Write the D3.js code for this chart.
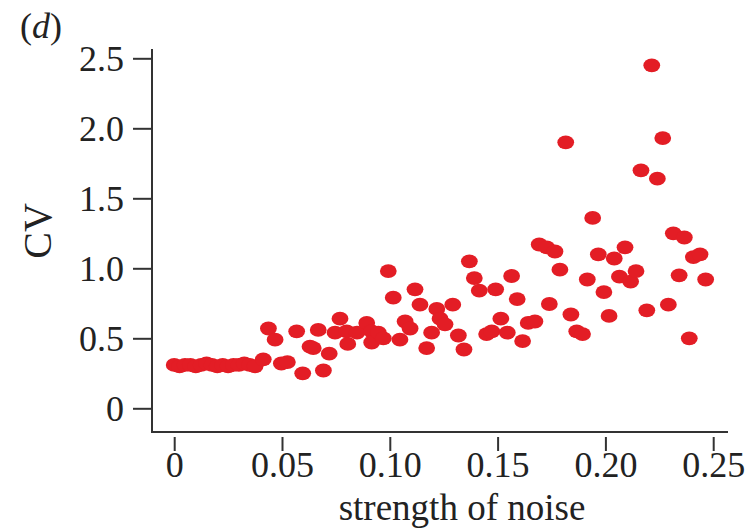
<!DOCTYPE html>
<html>
<head>
<meta charset="utf-8">
<script src="https://cdn.jsdelivr.net/npm/d3@7"></script>
<style>
  body { margin: 0; background: #fff; }
  svg { display: block; }
  text { font-family: "Liberation Serif", "Times New Roman", serif; fill: #222; }
</style>
</head>
<body>
<svg id="chart" width="745" height="529"></svg>
<script>
// ---- data ----
const noiseStrength = [
  0, 0.0025, 0.005, 0.0075, 0.01, 0.0125, 0.015, 0.0175, 0.02, 0.0225, 0.025, 0.0275, 0.03, 0.0325, 0.035, 0.0375,
  0.0413, 0.0437, 0.0468, 0.0497, 0.0525, 0.0568, 0.0596, 0.0630, 0.0645, 0.0668, 0.0692, 0.0719,
  0.0746, 0.0769, 0.0800, 0.0805, 0.0848, 0.0893, 0.0916, 0.0916, 0.0947, 0.0970, 0.0993,
  0.1016, 0.1047, 0.1071, 0.1094, 0.1117, 0.1140, 0.1171, 0.1194, 0.1218, 0.1233, 0.1256,
  0.1292, 0.1318, 0.1344, 0.1369, 0.1392, 0.1415, 0.1449, 0.1473, 0.1491, 0.1515, 0.1545,
  0.1565, 0.1591, 0.1616, 0.1642, 0.1673, 0.1693, 0.1728, 0.1740, 0.1766, 0.1789, 0.1816,
  0.1840, 0.1867, 0.1894, 0.1916, 0.1941, 0.1967, 0.1993, 0.2017, 0.2041, 0.2065, 0.2091,
  0.2117, 0.2142, 0.2165, 0.2192, 0.2215, 0.2241, 0.2266, 0.2292, 0.2315, 0.2342, 0.2366,
  0.2389, 0.2408, 0.2439, 0.2465
];
const cvValues = [
  0.31, 0.30, 0.31, 0.31, 0.30, 0.31, 0.32, 0.31, 0.30, 0.31, 0.30, 0.31, 0.31, 0.32, 0.31, 0.30,
  0.35, 0.57, 0.49, 0.32, 0.33, 0.55, 0.25, 0.44, 0.43, 0.56, 0.27, 0.39,
  0.54, 0.64, 0.55, 0.46, 0.54, 0.61, 0.55, 0.47, 0.54, 0.50, 0.98,
  0.79, 0.49, 0.62, 0.57, 0.85, 0.74, 0.43, 0.54, 0.71, 0.64, 0.60,
  0.74, 0.52, 0.42, 1.05, 0.93, 0.84, 0.53, 0.55, 0.85, 0.64, 0.54,
  0.945, 0.78, 0.48, 0.61, 0.62, 1.17, 1.15, 0.745, 1.12, 0.99, 1.90,
  0.67, 0.55, 0.53, 0.92, 1.36, 1.10, 0.83, 0.66, 1.07, 0.94, 1.15,
  0.905, 0.98, 1.70, 0.70, 2.45, 1.64, 1.93, 0.74, 1.25, 0.95, 1.22,
  0.50, 1.08, 1.10, 0.92
];
const xTicks = [0, 0.05, 0.10, 0.15, 0.20, 0.25];
const xTickLabels = ["0", "0.05", "0.10", "0.15", "0.20", "0.25"];
const yTicks = [0, 0.5, 1.0, 1.5, 2.0, 2.5];
const yTickLabels = ["0", "0.5", "1.0", "1.5", "2.0", "2.5"];

// ---- layout ----
const svg = d3.select("#chart");
const axisColor = "#333";
const x = d3.scaleLinear().domain([0, 0.25]).range([174.2, 713.2]);
const y = d3.scaleLinear().domain([0, 2.5]).range([408.3, 58.3]);
const axisLeftX = 152, axisBottomY = 432;
const fontPx = "36px";

// y axis
const yAxis = svg.append("g").attr("transform", `translate(${axisLeftX},0)`)
  .call(d3.axisLeft(y).tickValues(yTicks).tickFormat((d, i) => yTickLabels[i]).tickSize(19).tickPadding(9));
yAxis.select(".domain").remove();
yAxis.selectAll(".tick line").attr("stroke", axisColor).attr("stroke-width", 2);
yAxis.selectAll(".tick text").style("font-size", fontPx).attr("fill", "#222").attr("dy", "0.34em");
svg.append("line").attr("x1", axisLeftX).attr("x2", axisLeftX).attr("y1", 49).attr("y2", axisBottomY + 1)
  .attr("stroke", axisColor).attr("stroke-width", 2);

// x axis
svg.append("line").attr("x1", axisLeftX - 1).attr("x2", 728).attr("y1", axisBottomY).attr("y2", axisBottomY)
  .attr("stroke", axisColor).attr("stroke-width", 2);
const xAxis = svg.append("g").attr("transform", `translate(0,${axisBottomY + 5})`)
  .call(d3.axisBottom(x).tickValues(xTicks).tickFormat((d, i) => xTickLabels[i]).tickSize(14).tickPadding(0));
xAxis.select(".domain").remove();
xAxis.selectAll(".tick line").attr("stroke", axisColor).attr("stroke-width", 2);
xAxis.selectAll(".tick text").style("font-size", fontPx).attr("fill", "#222");

// labels
svg.append("text").attr("x", 462).attr("y", 520).attr("text-anchor", "middle")
  .style("font-size", "37px").text("strength of noise");
svg.append("text").attr("transform", "translate(51,231) rotate(-90)").attr("text-anchor", "middle")
  .style("font-size", "40px").text("CV");
const panel = svg.append("text").attr("x", 20).attr("y", 38).style("font-size", fontPx);
panel.append("tspan").text("(");
panel.append("tspan").style("font-style", "italic").text("d");
panel.append("tspan").text(")");

// points
const pts = noiseStrength.map((v, i) => ({ x: v, y: cvValues[i] }));
svg.append("g").selectAll("ellipse").data(pts).join("ellipse")
  .attr("cx", d => x(d.x)).attr("cy", d => y(d.y))
  .attr("rx", 8.4).attr("ry", 6.9)
  .attr("fill", "#e31d25");
</script>
</body>
</html>
